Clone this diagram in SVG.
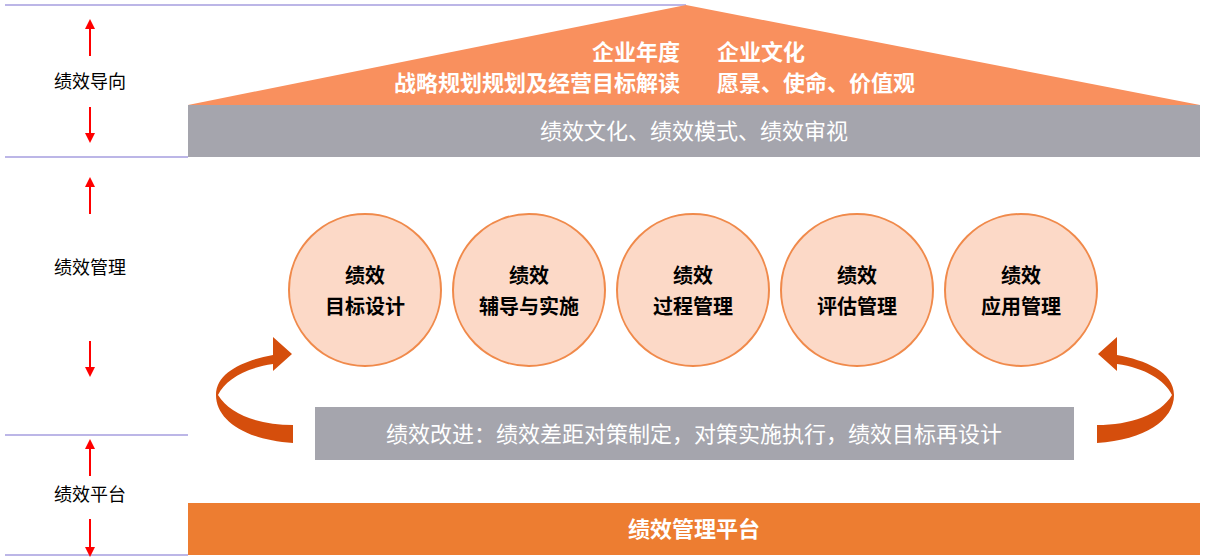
<svg xmlns="http://www.w3.org/2000/svg" width="1205" height="560" viewBox="0 0 1205 560">
<style>
.lbl{font-family:"Noto Sans CJK SC",sans-serif;font-size:18px;fill:#000;text-anchor:middle}
.sep{stroke:#7B6FD0;stroke-width:1.2}
.ra{stroke:#FF0000;stroke-width:2;marker-end:url(#rh)}
.wt{font-family:"Noto Sans CJK SC",sans-serif;fill:#fff}
.b{font-weight:bold}
.c circle{fill:#FCD9C7;stroke:#F08A4B;stroke-width:2}
.c text{font-family:"Noto Sans CJK SC",sans-serif;font-size:20px;font-weight:bold;fill:#000;text-anchor:middle}
</style>
<defs>
<marker id="rh" markerWidth="10" markerHeight="10" refX="5" refY="5" orient="auto" markerUnits="userSpaceOnUse"><path d="M0,0 L10,5 L0,10 Z" fill="#FF0000"/></marker>
<path id="ca" d="M293,443 C245,440 216,420 216,395 C216,372 245,360 273,355 L273,337 L292,354 L273,371 L273,364 C245,368 225,380 218,395 C230,415 260,425 293,425 Z" fill="#D54E0C"/>
</defs>
<rect width="1205" height="560" fill="#fff"/>
<g id="separators">
<line class="sep" x1="5" y1="5" x2="686" y2="5"/>
<line class="sep" x1="5" y1="157" x2="188" y2="157"/>
<line class="sep" x1="5" y1="435" x2="188" y2="435"/>
<line class="sep" x1="5" y1="555" x2="188" y2="555"/>
</g>
<g id="left-labels">
<text class="lbl" x="90" y="88">绩效导向</text>
<text class="lbl" x="90" y="274">绩效管理</text>
<text class="lbl" x="90" y="501">绩效平台</text>
</g>
<g id="connectors">
<line class="ra" x1="90" y1="56" x2="90" y2="24"/>
<line class="ra" x1="90" y1="107" x2="90" y2="138"/>
<line class="ra" x1="90" y1="214" x2="90" y2="182"/>
<line class="ra" x1="90" y1="341" x2="90" y2="372"/>
<line class="ra" x1="90" y1="476" x2="90" y2="444"/>
<line class="ra" x1="90" y1="519" x2="90" y2="552"/>
<use href="#ca"/>
<use href="#ca" transform="translate(1390,0) scale(-1,1)"/>
</g>
<g id="roof">
<polygon points="188,105 686,5 1200,105" fill="#F9905E"/>
<text class="wt b" x="680" y="60" font-size="22" text-anchor="end">企业年度</text>
<text class="wt b" x="680" y="91" font-size="22" text-anchor="end">战略规划规划及经营目标解读</text>
<text class="wt b" x="717" y="60" font-size="22">企业文化</text>
<text class="wt b" x="717" y="91" font-size="22">愿景、使命、价值观</text>
</g>
<g id="culture">
<rect x="188" y="105" width="1012" height="52" fill="#A5A5AD"/>
<text class="wt" x="694" y="139" font-size="22" text-anchor="middle">绩效文化、绩效模式、绩效审视</text>
</g>
<g id="n1" class="c"><circle cx="365" cy="290" r="76"/><text x="365" y="283">绩效</text><text x="365" y="314">目标设计</text></g>
<g id="n2" class="c"><circle cx="529" cy="290" r="76"/><text x="529" y="283">绩效</text><text x="529" y="314">辅导与实施</text></g>
<g id="n3" class="c"><circle cx="693" cy="290" r="76"/><text x="693" y="283">绩效</text><text x="693" y="314">过程管理</text></g>
<g id="n4" class="c"><circle cx="857" cy="290" r="76"/><text x="857" y="283">绩效</text><text x="857" y="314">评估管理</text></g>
<g id="n5" class="c"><circle cx="1021" cy="290" r="76"/><text x="1021" y="283">绩效</text><text x="1021" y="314">应用管理</text></g>
<g id="improve">
<rect x="315" y="407" width="759" height="53" fill="#A5A5AD"/>
<text class="wt" x="694" y="442" font-size="22" text-anchor="middle">绩效改进：绩效差距对策制定，对策实施执行，绩效目标再设计</text>
</g>
<g id="platform">
<rect x="188" y="503" width="1012" height="52" fill="#ED7D31"/>
<text class="wt b" x="694" y="537" font-size="22" text-anchor="middle">绩效管理平台</text>
</g>
</svg>
